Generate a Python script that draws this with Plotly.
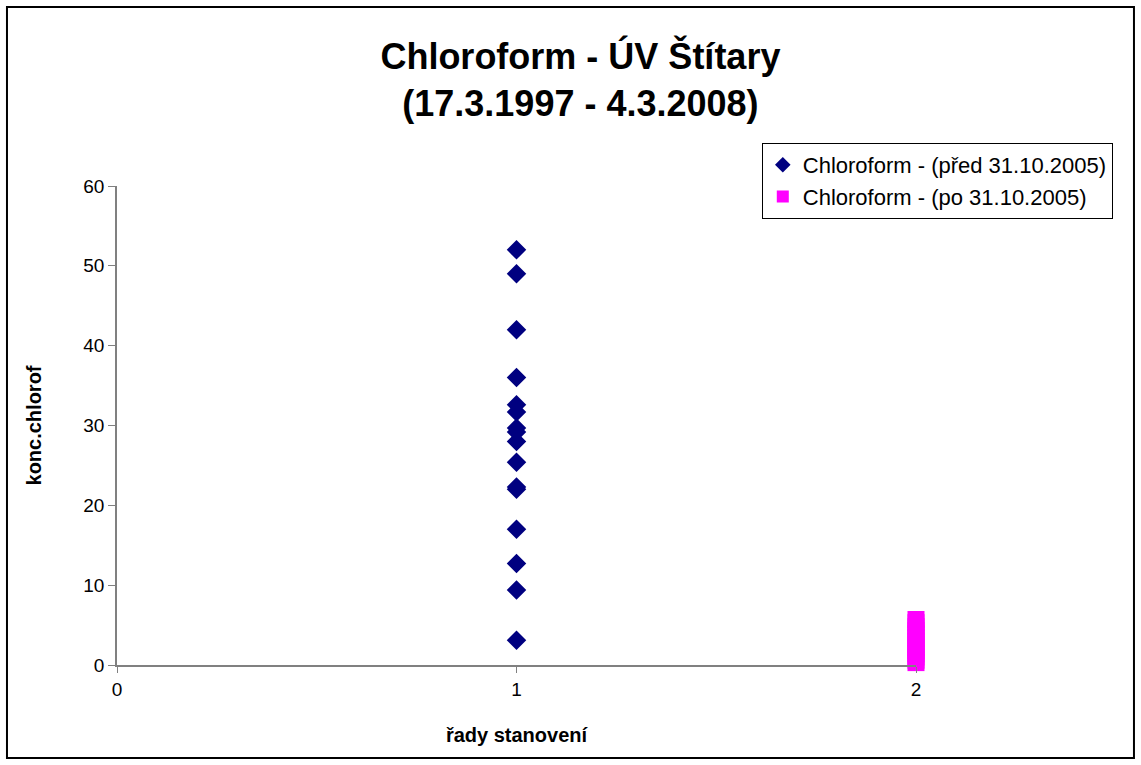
import plotly.graph_objects as go

# series 1: before 31.10.2005 (all at x = 1)
pred_x = [1] * 16
pred_y = [52.0, 49.0, 42.0, 36.0, 32.6, 31.7, 29.7, 29.2, 28.0, 25.4, 22.3, 22.0, 17.0, 12.7, 9.4, 3.1]

# series 2: after 31.10.2005 (all at x = 2)
po_x = [2] * 14
po_y = [0.3, 0.6, 1.0, 1.4, 1.8, 2.2, 2.6, 3.0, 3.4, 3.9, 4.3, 4.8, 5.3, 5.7]

x_ticks = [0, 1, 2]
y_ticks = [0, 10, 20, 30, 40, 50, 60]

font = "Liberation Sans, Arial, sans-serif"

fig = go.Figure()
fig.add_trace(go.Scatter(
    x=pred_x, y=pred_y, mode="markers",
    name="Chloroform - (před 31.10.2005)",
    marker=dict(symbol="diamond", size=15, color="#000080"),
    cliponaxis=False,
))
fig.add_trace(go.Scatter(
    x=po_x, y=po_y, mode="markers",
    name="Chloroform - (po 31.10.2005)",
    marker=dict(symbol="square", size=17, color="#FF00FF"),
    cliponaxis=False,
))

# outer chart border
fig.add_shape(type="rect", xref="paper", yref="paper",
              x0=-0.1377, x1=1.2728, y0=-0.194, y1=1.3737,
              line=dict(color="#000000", width=2))

fig.update_layout(
    width=1141, height=765,
    margin=dict(l=117, r=225, t=186, b=100),
    paper_bgcolor="white", plot_bgcolor="white",
    font=dict(family=font, color="black", size=19),
    title=dict(
        text="<b>Chloroform - ÚV Štítary<br>(17.3.1997 - 4.3.2008)</b>",
        font=dict(size=36, family=font),
        x=0.58, xref="paper", xanchor="center",
        y=0.91, yref="container", yanchor="top",
    ),
    legend=dict(
        x=0.807, y=1.0898, xanchor="left", yanchor="top",
        bordercolor="black", borderwidth=1, bgcolor="white",
        font=dict(size=22, family=font),
        itemsizing="constant", itemwidth=30, tracegroupgap=0,
    ),
    showlegend=True,
)
fig.update_xaxes(
    range=[0, 2], tickvals=x_ticks, showgrid=False, zeroline=False,
    showline=True, linecolor="#808080", linewidth=1.5,
    ticks="outside", ticklen=6, tickcolor="#808080",
    tickfont=dict(size=19),
    title=dict(text="<b>řady stanovení</b>", font=dict(size=20), standoff=29),
)
fig.update_yaxes(
    range=[0, 60], tickvals=y_ticks, showgrid=False, zeroline=False,
    showline=True, linecolor="#808080", linewidth=1.5,
    ticks="outside", ticklen=7, tickcolor="#808080",
    tickfont=dict(size=19),
    title=dict(text="<b>konc.chlorof</b>", font=dict(size=20), standoff=36),
)

fig.write_html("out.html", config={"displayModeBar": False},
               post_script="document.body.style.margin='0';")
